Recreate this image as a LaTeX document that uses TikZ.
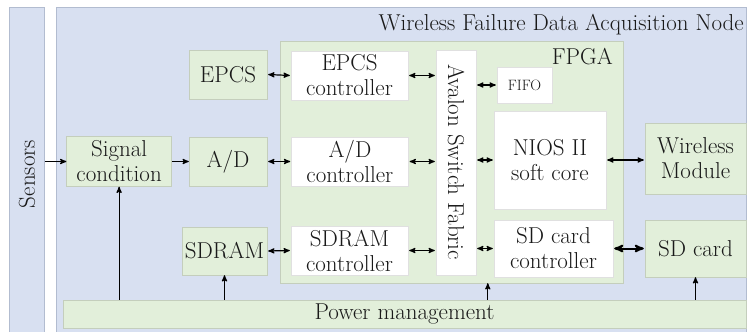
\documentclass[tikz,border=0pt]{standalone}
\usepackage{tikz}
\usetikzlibrary{shapes,arrows,backgrounds,positioning}
\definecolor{fondbleu}{RGB}{216,224,241}
\definecolor{bordbleu}{RGB}{178,188,208}
\definecolor{fondvert}{RGB}{226,239,218}
\definecolor{bordvert}{RGB}{196,206,188}
\tikzset{
  blocnode/.style = {align=center, inner sep=0pt, text centered,
    text=black!90, font=\fontsize{23}{25}\selectfont},
  blc_v/.style = {blocnode, rectangle, draw=bordvert, fill=fondvert},% green block
  blc_w/.style = {blocnode, rectangle, draw=black!12, fill=white},% white block
  blc_b/.style = {blocnode, rectangle, draw=bordbleu, fill=fondbleu},% blue frame
  lien/.style = {<->, line width=1.2pt, shorten <=1pt, shorten >=1pt},% bus link
  alim/.style = {->, line width=1.2pt}% power feed
}

\begin{document}
\begin{tikzpicture}[x=1pt, y=-1pt, >=stealth']
  \useasboundingbox[fill=white] (0,0) rectangle (747,332);
  % frames
  \node [blc_b, rotate=90, minimum width=334pt, minimum height=35pt] (sens) at (27,174) {Sensors};
  \node [blc_b, minimum width=690pt, minimum height=334pt] (wfdn) at (401,174) {};
  \node [blocnode, anchor=east] (ttl) at (744,25) {Wireless Failure Data Acquisition Node};
  \node [blc_v, minimum width=343pt, minimum height=242pt] (fpga) at (451.5,162) {};
  \node [blocnode, anchor=east] (fpgal) at (613,57) {FPGA};
  % outer blocks
  \node [blc_v, minimum width=78pt, minimum height=49pt] (ad) at (228,161.5) {A/D};
  \node [blc_v, minimum width=105pt, minimum height=50pt, left=17pt of ad] (sig) {Signal\\condition};
  \node [blc_v, minimum width=78pt, minimum height=49pt] (epcs) at (228,74.5) {EPCS};
  \node [blc_v, minimum width=85pt, minimum height=48pt] (sdram) at (224.5,251) {SDRAM};
  \node [blc_v, minimum width=101pt, minimum height=71pt] (wm) at (695.5,158.5) {Wireless\\Module};
  \node [blc_v, minimum width=101pt, minimum height=57pt] (sdc) at (695.5,248.5) {SD card};
  \node [blc_v, minimum width=683pt, minimum height=28pt] (pwr) at (404.5,314) {Power management};
  % inside the FPGA
  \node [blc_w, minimum width=117pt, minimum height=49pt] (epcsc) at (349.5,75.5) {EPCS\\controller};
  \node [blc_w, minimum width=117pt, minimum height=49pt, right=24pt of ad] (adc) {A/D\\controller};
  \node [blc_w, minimum width=117pt, minimum height=49pt] (sdramc) at (349.5,250.5) {SDRAM\\controller};
  \node [blc_w, rotate=-90, minimum width=225pt, minimum height=40pt] (ava) at (456,162.5) {Avalon Switch Fabric};
  \node [blc_w, minimum width=55pt, minimum height=36pt, font=\fontsize{15}{17}\selectfont] (fifo) at (524.5,85) {FIFO};
  \node [blc_w, minimum width=112pt, minimum height=98pt] (nios) at (550,160) {NIOS II\\soft core};
  \node [blc_w, minimum width=119pt, minimum height=57pt] (sdcc) at (553.5,248.5) {SD card\\controller};
  % links
  \draw [->, line width=1.2pt] (sens.south |- sig.west) -- (sig.west);
  \draw [->, line width=1.2pt] (sig.east) -- (ad.west);
  \draw [lien] (epcs.east) -- (epcsc.west);
  \draw [lien] (ad.east) -- (adc.west);
  \draw [lien] (sdram.east) -- (sdramc.west);
  \draw [lien] (epcsc.east) -- (epcsc.east -| ava.south);
  \draw [lien] (adc.east) -- (adc.east -| ava.south);
  \draw [lien] (sdramc.east) -- (sdramc.east -| ava.south);
  \draw [lien] (ava.north |- fifo.west) -- (fifo.west);
  \draw [lien] (ava.north |- nios.west) -- (nios.west);
  \draw [lien] (ava.north |- sdcc.west) -- (sdcc.west);
  \draw [lien] (nios.east) -- (nios.east -| wm.west);
  \draw [lien, line width=2pt] (sdcc.east) -- (sdc.west);
  % power
  \draw [alim] (pwr.north -| sig.south) -- (sig.south);
  \draw [alim] (pwr.north -| sdram.south) -- (sdram.south);
  \draw [alim] ([xshift=-6pt]pwr.north -| sdcc.west) -- ([xshift=-6pt]fpga.south -| sdcc.west);
  \draw [alim] (pwr.north -| sdc.south) -- (sdc.south);
\end{tikzpicture}
\end{document}
